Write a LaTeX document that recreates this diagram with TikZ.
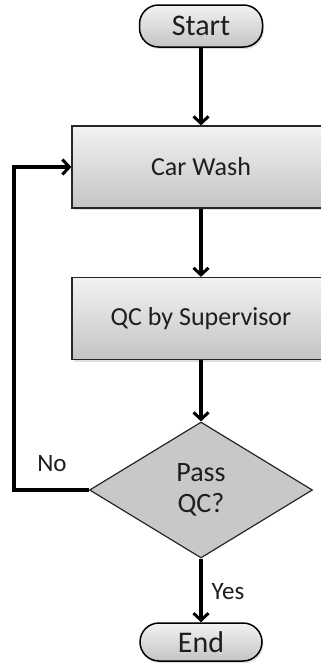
\documentclass[tikz,border=0pt]{standalone}
\usepackage{fontspec}
\setmainfont{Carlito}
\usetikzlibrary{shapes.geometric,arrows.meta,shadows}
\definecolor{ink}{HTML}{1E1E1E}
\definecolor{boxtop}{HTML}{F2F2F2}
\definecolor{boxbot}{HTML}{C4C4C4}
\definecolor{diafill}{HTML}{C8C8C8}
\tikzset{
  terminal/.style={draw=black, line width=1.5pt, rounded corners=19pt,
    top color=boxtop, bottom color=boxbot, inner sep=0pt,
    text=ink, font=\fontsize{30}{32}\selectfont,
    drop shadow={shadow xshift=1.5pt, shadow yshift=-2pt, opacity=0.25}},
  process/.style={draw=black!85, line width=1.2pt, rectangle,
    top color=boxtop, bottom color=boxbot, inner sep=0pt,
    minimum width=258pt, minimum height=82pt,
    text=ink, font=\fontsize{26}{28}\selectfont,
    drop shadow={shadow xshift=2pt, shadow yshift=-2pt, opacity=0.25}},
  decision/.style={draw=black!85, line width=1.2pt, diamond, fill=diafill,
    inner sep=0pt, minimum width=223pt, minimum height=136pt,
    text=ink, font=\fontsize{28}{31}\selectfont, align=center},
  flow/.style={line width=3.2pt, draw=black,
    -{Straight Barb[length=7pt,width=15pt,line width=3pt]}},
  edgelabel/.style={text=ink, font=\fontsize{25}{27}\selectfont, inner sep=0pt}
}
\begin{document}
\begin{tikzpicture}[x=1pt,y=-1pt]
  \useasboundingbox (0,0) rectangle (321,664);
  \fill[white] (0,0) rectangle (321,664);

  % flowchart nodes
  \node[terminal, minimum width=123pt, minimum height=42pt] (start) at (201,26) {Start};
  \node[process] (wash) at (201,167) {Car Wash};
  \node[process] (qc) at (201,318.5) {QC by Supervisor};
  \node[decision] (pass) at (201,490) {Pass\\QC?};
  \node[terminal, minimum width=122pt, minimum height=38pt] (finish) at (201,642) {End};

  % connectors
  \draw[flow] (start.south) -- (wash.north);
  \draw[flow] (wash.south) -- (qc.north);
  \draw[flow] (qc.south) -- (pass.north);
  \draw[flow] (pass.south) -- (finish.north);

  % loop back on failed check
  \coordinate (loopcorner) at (14,490);
  \draw[flow] (pass.west) -- (loopcorner) |- (wash.west);

  % branch labels
  \node[edgelabel] (nolabel) at (52,464) {No};
  \node[edgelabel] (yeslabel) at (228,592) {Yes};
\end{tikzpicture}
\end{document}
